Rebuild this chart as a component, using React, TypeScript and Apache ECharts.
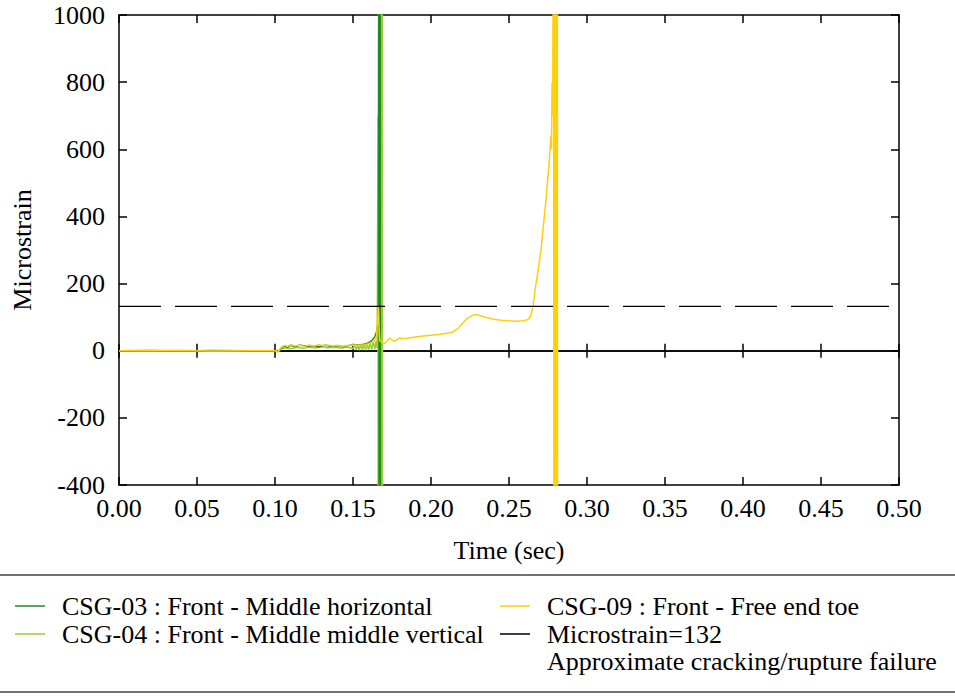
import React, { useEffect, useRef } from "react";
import * as echarts from "echarts";

const seriesNames = [
  "CSG-03 : Front - Middle horizontal",
  "CSG-04 : Front - Middle middle vertical",
  "CSG-09 : Front - Free end toe",
  "Microstrain=132",
];
const thresholdNote = "Approximate cracking/rupture failure";
const colors = ["#1f8a1f", "#9acd32", "#ffcf0a", "#000000"];

const xTicks = { min: 0, max: 0.5, interval: 0.05 };
const yTicks = { min: -400, max: 1000, interval: 200 };
const threshold = 132;

// CSG-03 (time sec, microstrain)
const csg03: [number, number][] = [
  [0, 0], [0.02, 0.5], [0.04, -0.5], [0.06, 0.5], [0.08, 0], [0.1, 0],
  [0.102, -2], [0.104, 8], [0.106, 14], [0.108, 10], [0.11, 16], [0.113, 12],
  [0.116, 17], [0.12, 13], [0.124, 15], [0.128, 12], [0.132, 16], [0.136, 13],
  [0.14, 15], [0.144, 12], [0.148, 16], [0.152, 18], [0.155, 17], [0.158, 20],
  [0.16, 24], [0.162, 30], [0.164, 42], [0.165, 55], [0.1658, 75], [0.1663, 100],
  [0.1666, 1500], [0.1668, -1500], [0.167, 1500], [0.1672, -1500], [0.1674, 1500],
  [0.1676, -1500],
];

// CSG-04
const csg04: [number, number][] = [
  [0, 0], [0.02, -0.5], [0.04, 0.5], [0.06, -0.5], [0.08, 0], [0.1, 0],
  [0.102, -3], [0.104, 5], [0.107, 9], [0.11, 6], [0.114, 10], [0.118, 7],
  [0.122, 11], [0.126, 8], [0.13, 12], [0.134, 9], [0.138, 10], [0.142, 8],
  [0.146, 11], [0.15, 6], [0.151, 18], [0.152, 2], [0.153, 19], [0.154, 1],
  [0.155, 20], [0.156, 2], [0.157, 21], [0.158, 1], [0.159, 22], [0.16, 2],
  [0.161, 24], [0.162, 3], [0.163, 27], [0.164, 4], [0.1648, 30], [0.1655, 8],
  [0.166, 700], [0.1662, -1500], [0.1664, 1500], [0.1666, -1500], [0.1668, 1500],
  [0.167, -1500], [0.1672, 1500], [0.1674, -1500], [0.1676, 1500], [0.1678, -1500],
  [0.168, 1500], [0.1682, -1500], [0.1684, 1500], [0.1686, -1500], [0.1688, 1500],
  [0.169, -1500],
];

// CSG-09
const csg09: [number, number][] = [
  [0, 0], [0.03, 0.5], [0.06, -0.5], [0.09, 0], [0.1, 0],
  [0.102, -3], [0.104, 10], [0.106, 16], [0.108, 13], [0.11, 18], [0.113, 14],
  [0.116, 17], [0.119, 13], [0.122, 17], [0.125, 14], [0.128, 18], [0.131, 15],
  [0.134, 17], [0.137, 14], [0.14, 16], [0.143, 13], [0.146, 15], [0.15, 17],
  [0.154, 16], [0.158, 18], [0.161, 22], [0.163, 26], [0.165, 40], [0.1658, 90],
  [0.1663, 130], [0.1668, 60], [0.1672, 30], [0.169, 24], [0.1705, 22], [0.172, 30],
  [0.1735, 38], [0.175, 32], [0.1765, 28], [0.178, 33], [0.18, 38], [0.183, 36],
  [0.186, 38], [0.19, 41], [0.195, 44], [0.2, 46], [0.205, 48], [0.21, 52],
  [0.214, 56], [0.217, 65], [0.22, 80], [0.223, 95], [0.226, 104], [0.229, 108],
  [0.232, 104], [0.236, 98], [0.24, 94], [0.245, 91], [0.25, 89], [0.255, 88],
  [0.259, 89], [0.262, 92], [0.2635, 100], [0.2645, 115], [0.2655, 135],
  [0.267, 190], [0.269, 250], [0.2705, 300], [0.272, 370], [0.2735, 440],
  [0.275, 520], [0.276, 580], [0.2768, 640], [0.2772, 600], [0.2776, 800],
  [0.278, 700], [0.2786, 1500], [0.2788, -1500], [0.279, 1500], [0.2792, -1500],
  [0.2794, 1500], [0.2796, -1500], [0.2798, 1500], [0.28, -1500], [0.2802, 1500],
  [0.2804, -1500], [0.2806, 1500], [0.2808, -1500], [0.281, 1500], [0.2812, -1500],
];

const thresholdLine: [number, number][] = [
  [xTicks.min, threshold],
  [xTicks.max, threshold],
];

const FONT = "Liberation Serif";
const FS = 26;

export default function App() {
  const ref = useRef<HTMLDivElement>(null);
  useEffect(() => {
    document.body.style.margin = "0";
    const chart = echarts.init(ref.current!, null, { renderer: "svg" });
    const axisCommon = {
      type: "value" as const,
      min: xTicks.min,
      max: xTicks.max,
      interval: xTicks.interval,
      splitLine: { show: false },
    };
    const lineBlack = { lineStyle: { color: "#000", width: 1.5 } };
    const legendRows = [
      { x: 15, y: 606, color: colors[0], text: seriesNames[0] },
      { x: 15, y: 634, color: colors[1], text: seriesNames[1] },
      { x: 500, y: 606, color: colors[2], text: seriesNames[2] },
      { x: 500, y: 634, color: colors[3], text: seriesNames[3] },
    ];
    const graphic: any[] = [
      { type: "line", shape: { x1: 0, y1: 575, x2: 955, y2: 575 }, style: { stroke: "#444", lineWidth: 1.5 } },
      { type: "line", shape: { x1: 0, y1: 692, x2: 955, y2: 692 }, style: { stroke: "#444", lineWidth: 1.5 } },
    ];
    legendRows.forEach((r) => {
      graphic.push({
        type: "line",
        shape: { x1: r.x, y1: r.y, x2: r.x + 30, y2: r.y },
        style: { stroke: r.color, lineWidth: 1.5 },
      });
      graphic.push({
        type: "text",
        x: r.x + 47,
        y: r.y,
        style: { text: r.text, font: `${FS}px "${FONT}"`, fill: "#000", verticalAlign: "middle" },
      });
    });
    graphic.push({
      type: "text",
      x: 547,
      y: 661,
      style: { text: thresholdNote, font: `${FS}px "${FONT}"`, fill: "#000", verticalAlign: "middle" },
    });

    chart.setOption({
      animation: false,
      backgroundColor: "#fff",
      textStyle: { fontFamily: FONT },
      grid: { left: 119, right: 56, top: 15, height: 470, show: false },
      xAxis: [
        {
          ...axisCommon,
          position: "bottom",
          name: "Time (sec)",
          nameLocation: "middle",
          nameGap: 52,
          nameTextStyle: { fontSize: FS, color: "#000", fontFamily: FONT },
          axisLine: { onZero: false, ...lineBlack },
          axisTick: { inside: true, length: 8, lineStyle: { color: "#000", width: 1.5 } },
          axisLabel: {
            fontSize: FS,
            color: "#000",
            fontFamily: FONT,
            margin: 10,
            formatter: (v: number) => v.toFixed(2),
          },
        },
        {
          ...axisCommon,
          position: "top",
          axisLine: { onZero: false, ...lineBlack },
          axisTick: { inside: true, length: 8, lineStyle: { color: "#000", width: 1.5 } },
          axisLabel: { show: false },
        },
        {
          ...axisCommon,
          position: "bottom",
          axisLine: { onZero: true, onZeroAxisIndex: 0, ...lineBlack },
          axisTick: { inside: true, length: 7, lineStyle: { color: "#000", width: 1.5 } },
          axisLabel: { show: false },
        },
        {
          ...axisCommon,
          position: "bottom",
          axisLine: { onZero: true, onZeroAxisIndex: 0, ...lineBlack },
          axisTick: { inside: false, length: 7, lineStyle: { color: "#000", width: 1.5 } },
          axisLabel: { show: false },
        },
      ],
      yAxis: [
        {
          type: "value",
          min: yTicks.min,
          max: yTicks.max,
          interval: yTicks.interval,
          position: "left",
          name: "Microstrain",
          nameLocation: "middle",
          nameGap: 84,
          nameTextStyle: { fontSize: FS, color: "#000", fontFamily: FONT },
          splitLine: { show: false },
          axisLine: { show: true, onZero: false, ...lineBlack },
          axisTick: { show: true, inside: true, length: 8, lineStyle: { color: "#000", width: 1.5 } },
          axisLabel: {
            fontSize: FS,
            color: "#000",
            fontFamily: FONT,
            margin: 14,
            formatter: (v: number) => String(v),
          },
        },
        {
          type: "value",
          min: yTicks.min,
          max: yTicks.max,
          interval: yTicks.interval,
          position: "right",
          splitLine: { show: false },
          axisLine: { show: true, onZero: false, ...lineBlack },
          axisTick: { show: true, inside: true, length: 8, lineStyle: { color: "#000", width: 1.5 } },
          axisLabel: { show: false },
        },
      ],
      series: [
        {
          name: seriesNames[1],
          type: "line",
          data: csg04,
          symbol: "none",
          z: 2,
          lineStyle: { color: colors[1], width: 1.5 },
          clip: true,
        },
        {
          name: seriesNames[0],
          type: "line",
          data: csg03,
          symbol: "none",
          z: 3,
          lineStyle: { color: colors[0], width: 1.5 },
          clip: true,
        },
        {
          name: seriesNames[2],
          type: "line",
          data: csg09,
          symbol: "none",
          z: 4,
          lineStyle: { color: colors[2], width: 1.5 },
          clip: true,
        },
        {
          name: seriesNames[3],
          type: "line",
          data: thresholdLine,
          symbol: "none",
          z: 5,
          lineStyle: { color: colors[3], width: 1.2, type: [42, 14] },
          clip: true,
        },
      ],
      graphic,
    });
    return () => chart.dispose();
  }, []);
  return <div ref={ref} style={{ width: 955, height: 696 }} />;
}
